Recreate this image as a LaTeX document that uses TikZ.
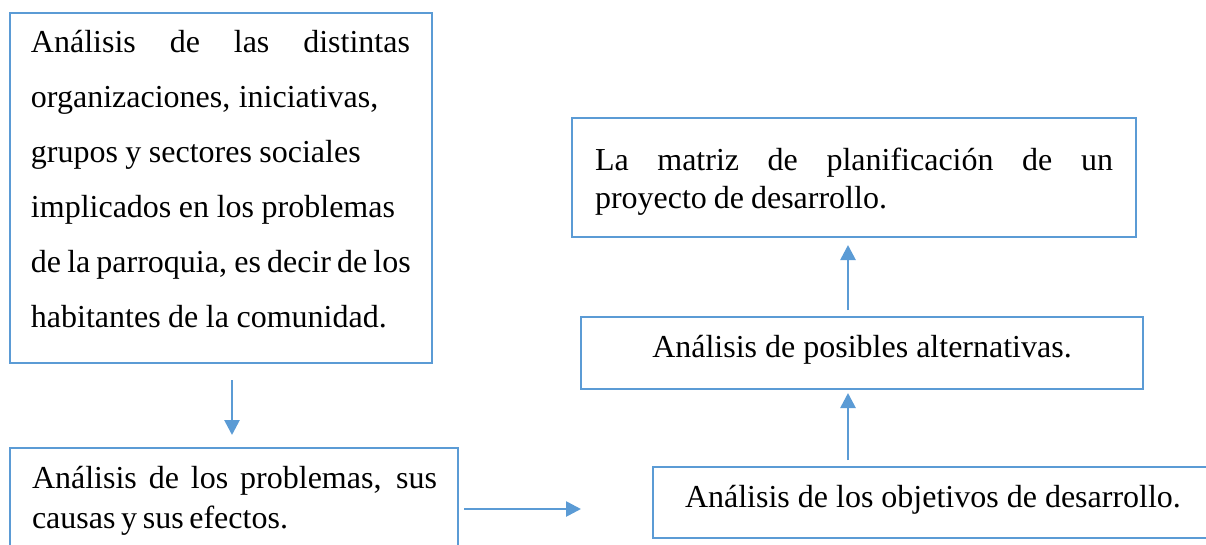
\documentclass[tikz,border=0pt]{standalone}
\usepackage{fontspec}
\setmainfont{Liberation Serif}
\usetikzlibrary{arrows.meta,calc,fit}
\definecolor{boxblue}{HTML}{5B9BD5}
\newcommand{\fitline}[2]{{\spaceskip=1pt plus 30pt minus 1pt\relax\makebox[#1][s]{#2}}}
\begin{document}
\begin{tikzpicture}[x=0.75pt,y=-0.75pt,
  box/.style={draw=boxblue,line width=2pt,inner sep=0pt,outer sep=0pt},
  txt/.style={inner sep=0pt,outer sep=0pt,align=left},
  arr/.style={draw=boxblue,line width=2pt,-{Triangle[width=11.25pt,length=11.25pt]}}]
\useasboundingbox (0,0) rectangle (1206,544);
\clip (0,0) rectangle (1206,544);
% boxes
\node[box,fit={(10,13) (432,363)}] (b1) {};
\node[box,fit={(10,448) (458,570)}] (b2) {};
\node[box,fit={(572,118) (1136,237)}] (b3) {};
\node[box,fit={(581,317) (1143,389)}] (b4) {};
\node[box,fit={(653,467) (1211,538)}] (b5) {};
% texts
\node[txt,text width=340pt,anchor=base west,font=\fontsize{24pt}{41.25pt}\selectfont] (t1) at (31,52)
  {\fitline{284.25pt}{Análisis de las distintas}\\
   \fitline{260.5pt}{organizaciones, iniciativas,}\\
   \fitline{247.3pt}{grupos y sectores sociales}\\
   \fitline{273pt}{implicados en los problemas}\\
   \fitline{284.8pt}{de la parroquia, es decir de los}\\
   \fitline{266.8pt}{habitantes de la comunidad.}};
\node[txt,text width=340pt,anchor=base west,font=\fontsize{24pt}{30pt}\selectfont] (t2) at (32,488)
  {\fitline{303.75pt}{Análisis de los problemas, sus}\\
   \fitline{192pt}{causas y sus efectos.}};
\node[txt,text width=420pt,anchor=base west,font=\fontsize{24pt}{28.5pt}\selectfont] (t3) at (595,170)
  {\fitline{388.5pt}{La matriz de planificación de un}\\
   \fitline{219pt}{proyecto de desarrollo.}};
\node[txt,anchor=base,font=\fontsize{24pt}{28.5pt}\selectfont] (t4) at (862,357)
  {Análisis de posibles alternativas.};
\node[txt,anchor=base west,font=\fontsize{24pt}{28.5pt}\selectfont] (t5) at (685,507)
  {Análisis de los objetivos de desarrollo.};
% connectors
\coordinate (dx) at (232,0);
\draw[arr] ($(b1.south -| dx)+(0,17)$) -- ($(b2.north -| dx)+(0,-13)$);
\coordinate (rt) at (581,509);
\draw[arr] ($(b2.east |- rt)+(6,0)$) -- (rt);
\coordinate (ux) at (848,0);
\draw[arr] ($(b5.north -| ux)+(0,-7)$) -- ($(b4.south -| ux)+(0,4)$);
\draw[arr] ($(b4.north -| ux)+(0,-7)$) -- ($(b3.south -| ux)+(0,8)$);
\end{tikzpicture}
\end{document}
